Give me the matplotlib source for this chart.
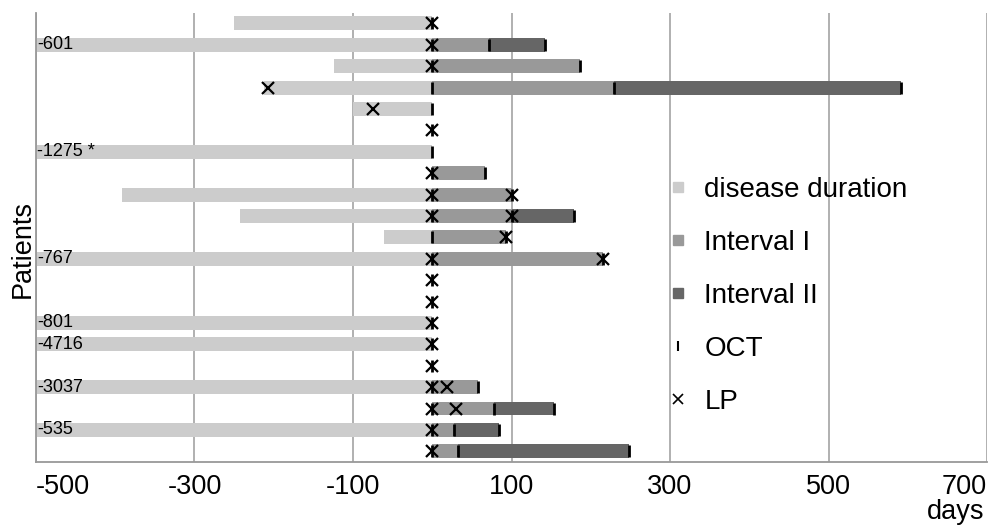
import matplotlib
matplotlib.use('Agg')
import matplotlib.pyplot as plt
from matplotlib.lines import Line2D

# --- DATA (days relative to OCT baseline, rows top to bottom) ---
ROWS = list(range(21))
DURATION = [-250, -601, -124, -212, -100, 0, -1275, 0, -392, -243, -61,
            -767, 0, 0, -801, -4716, 0, -3037, 0, -535, 0]
DUR_LABELS = ["", "-601", "", "", "", "", "-1275 *", "", "", "", "",
              "-767", "", "", "-801", "-4716", "", "-3037", "", "-535", ""]
INTERVAL1 = [0, 72, 186, 229, 0, 0, 0, 67, 100, 100, 93,
             215, 0, 0, 0, 0, 0, 58, 78, 28, 32]
INTERVAL2 = [0, 142, 0, 592, 0, 0, 0, 0, 0, 179, 0,
             0, 0, 0, 0, 0, 0, 0, 153, 84, 248]
OCT_ROW = [0, 1, 1, 1, 2, 2, 3, 3, 3, 4, 5, 6, 7, 7, 8, 8, 9, 9, 9, 10, 10,
           11, 11, 12, 13, 14, 15, 16, 17, 17, 18, 18, 18, 19, 19, 19, 20, 20, 20]
OCT_DAY = [0, 0, 72, 142, 0, 186, 0, 229, 592, 0, 0, 0, 0, 67, 0, 100, 0, 100, 179, 0, 93,
           0, 215, 0, 0, 0, 0, 0, 0, 58, 0, 78, 153, 0, 28, 84, 0, 32, 248]
LP_ROW = [0, 1, 2, 3, 4, 5, 7, 8, 8, 9, 9, 10, 11, 11, 12, 13, 14, 15, 16,
          17, 17, 18, 18, 19, 20]
LP_DAY = [0, 0, 0, -207, -75, 0, 0, 0, 100, 0, 100, 93, 0, 215, 0, 0, 0, 0, 0,
          0, 19, 0, 30, 0, 0]
XTICKS = [-500, -300, -100, 100, 300, 500, 700]

C_DUR, C_I1, C_I2 = '#cccccc', '#999999', '#666666'
FONT = 'Liberation Sans'
plt.rcParams['font.family'] = [FONT, 'DejaVu Sans']

fig = plt.figure(figsize=(9.89, 5.26), dpi=100)
ax = fig.add_axes([36 / 989, 1 - 462 / 526, 951 / 989, 449.3 / 526])

H = 0.65
ax.barh(ROWS, DURATION, height=H, color=C_DUR, zorder=2)
ax.barh(ROWS, INTERVAL1, height=H, color=C_I1, zorder=2)
i2_width = [b - a if b else 0 for a, b in zip(INTERVAL1, INTERVAL2)]
ax.barh(ROWS, i2_width, left=INTERVAL1, height=H, color=C_I2, zorder=2)

ax.plot(OCT_DAY, OCT_ROW, ls='none', marker='|', ms=9, mew=2, color='black', zorder=3)
ax.plot(LP_DAY, LP_ROW, ls='none', marker='x', ms=8, mew=1.6, color='black', zorder=4)

for r, lab in zip(ROWS, DUR_LABELS):
    if lab:
        ax.text(-499, r, lab, ha='left', va='center', fontsize=13, zorder=5)

ax.set_xlim(-500, 700)
ax.set_ylim(20.5, -0.5)
ax.set_yticks([])
ax.set_xticks(XTICKS)
ax.set_xticklabels([str(t) for t in XTICKS], fontsize=19.5)
ax.tick_params(axis='x', length=0, pad=9)
labs = ax.get_xticklabels()
labs[0].set_ha('left')
labs[-1].set_ha('right')
ax.grid(True, axis='x', color='#aaaaaa', lw=1.3, zorder=1)
for s in ['top', 'right']:
    ax.spines[s].set_visible(False)
for s in ['left', 'bottom']:
    ax.spines[s].set_color('#999999')
    ax.spines[s].set_linewidth(1.3)

fig.text(23 / 989, 1 - 249 / 526, 'Patients', rotation=90, ha='center', va='center', fontsize=19.5)
fig.text(984 / 989, 1 - 519 / 526, 'days', ha='right', va='baseline', fontsize=19.5)

handles = [
    Line2D([], [], ls='none', marker='s', ms=6.5, color=C_DUR),
    Line2D([], [], ls='none', marker='s', ms=6.5, color=C_I1),
    Line2D([], [], ls='none', marker='s', ms=6.5, color=C_I2),
    Line2D([], [], ls='none', marker='|', ms=7, mew=1.5, color='black'),
    Line2D([], [], ls='none', marker='x', ms=7, mew=1.2, color='black'),
]
names = ['disease duration', 'Interval I', 'Interval II', 'OCT', 'LP']
ax.legend(handles, names, loc='upper left', bbox_to_anchor=(653 / 989, 1 - 163 / 526),
          bbox_transform=fig.transFigure, frameon=False, fontsize=20,
          handlelength=0.8, handletextpad=0.55, labelspacing=0.97, borderpad=0)

fig.savefig('out.png', dpi=100)
